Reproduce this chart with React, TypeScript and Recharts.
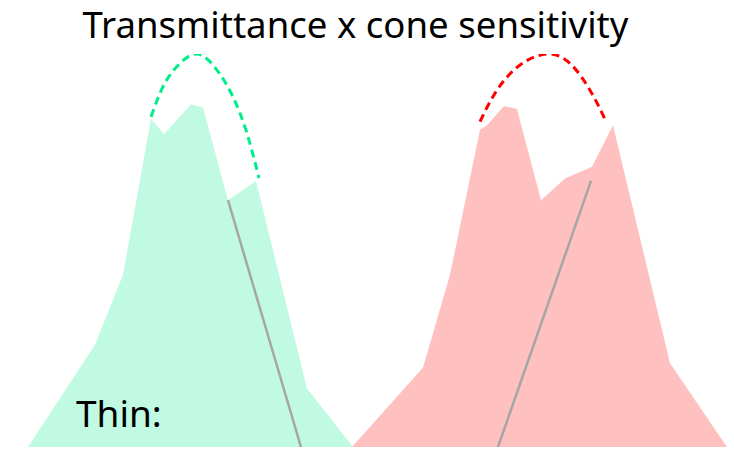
import { ComposedChart, Area, Line, XAxis, YAxis } from 'recharts'

// x: position along the spectrum (0–734), y: relative response (0–1)
const greenX = [28, 95, 123, 151, 164, 191, 203, 228, 256, 307, 353]
const greenY = [0, 0.26, 0.438, 0.835, 0.796, 0.872, 0.864, 0.628, 0.677, 0.149, 0]

const redX = [352, 423, 450, 480, 487, 504, 517, 541, 565, 592, 613, 670, 727]
const redY = [0, 0.202, 0.438, 0.807, 0.819, 0.868, 0.86, 0.628, 0.683, 0.713, 0.819, 0.213, 0]

const greenArcX = [151, 163, 177, 197, 217, 233, 247, 259]
const greenArcY = [0.84, 0.917, 0.968, 1, 0.959, 0.891, 0.798, 0.684]

const redArcX = [480, 497, 520, 547, 570, 590, 605]
const redArcY = [0.828, 0.908, 0.972, 1, 0.976, 0.908, 0.834]

const greenCutX = [228, 301]
const greenCutY = [0.628, 0]

const redCutX = [591, 498]
const redCutY = [0.677, 0]

const zip = (xs: number[], ys: number[]) => xs.map((x, i) => ({ x, y: ys[i] }))

const greenData = zip(greenX, greenY)
const redData = zip(redX, redY)
const greenArc = zip(greenArcX, greenArcY)
const redArc = zip(redArcX, redArcY)
const greenCut = zip(greenCutX, greenCutY)
const redCut = zip(redCutX, redCutY)

export default function App() {
  return (
    <div style={{ position: 'absolute', left: 0, top: 0, width: 734, height: 449, background: '#fff' }}>
      <div
        style={{
          position: 'absolute',
          left: 0,
          top: 0,
          width: 711,
          textAlign: 'center',
          fontFamily: '"Noto Sans", "Open Sans", sans-serif',
          fontSize: 36.6,
          lineHeight: '48px',
          color: '#000',
        }}
      >
        Transmittance x cone sensitivity
      </div>
      <ComposedChart width={734} height={449} margin={{ top: 54, right: 0, bottom: 2, left: 0 }}>
        <XAxis type="number" dataKey="x" domain={[0, 734]} hide allowDuplicatedCategory={false} />
        <YAxis type="number" dataKey="y" domain={[0, 1]} hide allowDataOverflow />
        <Area
          data={greenData}
          dataKey="y"
          type="linear"
          stroke="none"
          fill="#c0fae2"
          fillOpacity={1}
          isAnimationActive={false}
        />
        <Area
          data={redData}
          dataKey="y"
          type="linear"
          stroke="none"
          fill="#ffc0c0"
          fillOpacity={1}
          isAnimationActive={false}
        />
        <Line
          data={greenCut}
          dataKey="y"
          type="linear"
          stroke="#a6a6a6"
          strokeWidth={2.5}
          dot={false}
          isAnimationActive={false}
        />
        <Line
          data={redCut}
          dataKey="y"
          type="linear"
          stroke="#a6a6a6"
          strokeWidth={2.5}
          dot={false}
          isAnimationActive={false}
        />
        <Line
          data={greenArc}
          dataKey="y"
          type="natural"
          stroke="#00ee88"
          strokeWidth={3}
          strokeDasharray="8 5"
          dot={false}
          isAnimationActive={false}
        />
        <Line
          data={redArc}
          dataKey="y"
          type="natural"
          stroke="#ff0000"
          strokeWidth={3}
          strokeDasharray="8 5"
          dot={false}
          isAnimationActive={false}
        />
      </ComposedChart>
      <div
        style={{
          position: 'absolute',
          left: 76,
          top: 388,
          fontFamily: '"Noto Sans", "Open Sans", sans-serif',
          fontSize: 37,
          lineHeight: '50px',
          color: '#000',
        }}
      >
        Thin:
      </div>
    </div>
  )
}
